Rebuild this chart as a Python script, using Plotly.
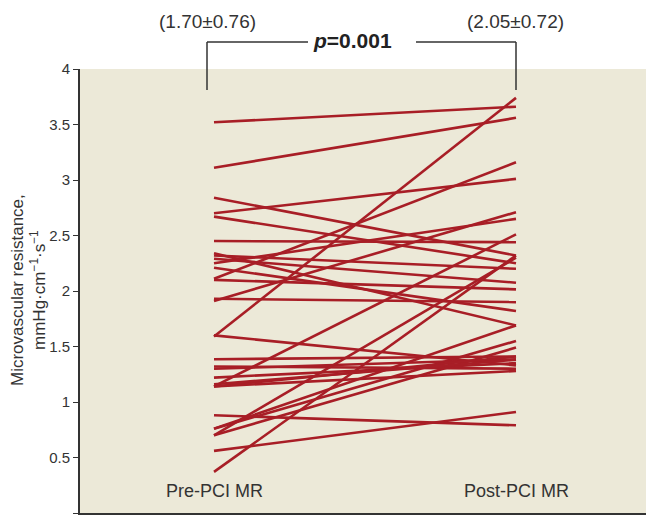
import plotly.graph_objects as go

# Data
categories = ["Pre-PCI MR", "Post-PCI MR"]
pre_mr = [3.52, 3.11, 1.59, 2.11, 2.70, 1.91, 2.25, 2.84, 2.67, 2.45, 1.14, 2.32, 2.29, 2.21,
          2.10, 1.93, 2.34, 0.37, 0.76, 0.70, 1.385, 1.32, 1.30, 1.22, 1.14, 0.88, 0.56, 1.60,
          0.70, 0.76, 1.14, 1.16]
post_mr = [3.66, 3.56, 3.74, 3.16, 3.01, 2.71, 2.65, 2.32, 2.25, 2.44, 2.51, 2.20, 2.075, 1.82,
           2.015, 1.90, 1.69, 2.32, 1.55, 1.49, 1.41, 1.30, 1.385, 1.35, 1.28, 0.79, 0.91, 1.33,
           2.30, 1.69, 1.41, 1.38]
summary_labels = ["(1.70\u00b10.76)", "(2.05\u00b10.72)"]
p_label = "<i>p</i>=0.001"
ytick_vals = [0, 0.5, 1, 1.5, 2, 2.5, 3, 3.5, 4]
ytick_text = ["0", "0.5", "1", "1.5", "2", "2.5", "3", "3.5", "4"]

W, H = 646, 515
ML, MR, MT, MB = 80, 0, 69, 2
PW, PH = W - ML - MR, H - MT - MB

def px_x(px):
    return (px - ML) / PW

def px_y(py):
    return (H - MB - py) / PH

RED = "#A81E26"
GREY = "#333333"
FONT = "Liberation Sans, Arial, sans-serif"
NARROW = "Liberation Sans Narrow, Arial Narrow, sans-serif"

fig = go.Figure()
for a, b in zip(pre_mr, post_mr):
    fig.add_trace(go.Scatter(x=[0, 1], y=[a, b], mode="lines",
                             line=dict(color=RED, width=2.6), hoverinfo="skip",
                             showlegend=False))

x_left = -(214 - ML) / 302
x_right = 1 + (W - MR - 516) / 302

fig.update_layout(
    width=W, height=H,
    margin=dict(l=ML, r=MR, t=MT, b=MB, pad=0),
    paper_bgcolor="white",
    plot_bgcolor="#ECE9D8",
    showlegend=False,
    xaxis=dict(range=[x_left, x_right], showgrid=False, zeroline=False,
               showticklabels=False, ticks="", showline=True, linecolor=GREY,
               linewidth=2, fixedrange=True),
    yaxis=dict(range=[0, 4], showgrid=False, zeroline=False, tickvals=ytick_vals,
               ticktext=ytick_text, ticks="outside", ticklen=5, tickwidth=1,
               tickcolor=GREY, showline=True, linecolor=GREY, linewidth=2,
               tickfont=dict(family=NARROW, size=15, color=GREY), fixedrange=True),
)

# category labels inside the plot
for xv, lab in zip([0, 1], categories):
    fig.add_annotation(x=xv, y=px_y(491), xref="x", yref="paper", text=lab,
                       showarrow=False, xanchor="center", yanchor="middle",
                       font=dict(family=FONT, size=18, color=GREY))

# y-axis title
fig.add_annotation(x=px_x(28), y=px_y(290), xref="paper", yref="paper",
                   text="Microvascular resistance,<br>mmHg\u00b7cm<sup>\u22121</sup>\u00b7s<sup>\u22121</sup>",
                   textangle=-90, showarrow=False, xanchor="center", yanchor="middle",
                   font=dict(family=FONT, size=17, color=GREY))

# summary labels
for pxx, lab in zip([207, 515], summary_labels):
    fig.add_annotation(x=px_x(pxx), y=px_y(21), xref="paper", yref="paper", text=lab,
                       showarrow=False, xanchor="center", yanchor="middle",
                       font=dict(family=FONT, size=19, color=GREY))

fig.add_annotation(x=px_x(352), y=px_y(41), xref="paper", yref="paper",
                   text="<b>" + p_label + "</b>", showarrow=False,
                   xanchor="center", yanchor="middle",
                   font=dict(family=NARROW, size=21, color="#222222"))

# bracket
bracket = [
    (207, 42, 308, 42), (207, 42, 207, 90),
    (416, 42, 516, 42), (516, 42, 516, 90),
]
for x0, y0, x1, y1 in bracket:
    fig.add_shape(type="line", xref="paper", yref="paper",
                  x0=px_x(x0), y0=px_y(y0), x1=px_x(x1), y1=px_y(y1),
                  line=dict(color=GREY, width=1.5))

fig.write_html("out.html")
